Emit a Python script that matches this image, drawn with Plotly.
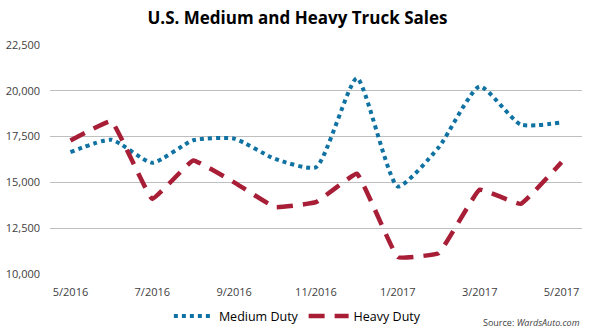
import plotly.graph_objects as go

months = ["5/2016", "6/2016", "7/2016", "8/2016", "9/2016", "10/2016", "11/2016",
          "12/2016", "1/2017", "2/2017", "3/2017", "4/2017", "5/2017"]
medium_duty = [16650, 17330, 16070, 17300, 17390, 16280, 15830, 20690, 14780, 16920, 20240, 18160, 18270]
heavy_duty = [17290, 18340, 14100, 16200, 15000, 13650, 13920, 15470, 10920, 11140, 14600, 13830, 16100]
tick_months = ["5/2016", "7/2016", "9/2016", "11/2016", "1/2017", "3/2017", "5/2017"]
y_ticks = [10000, 12500, 15000, 17500, 20000, 22500]

FONT = "Open Sans, Lato, sans-serif"

fig = go.Figure()
fig.add_trace(go.Scatter(
    x=months, y=medium_duty, name="Medium Duty", mode="lines",
    line=dict(color="#0F72A3", width=4, dash="4px,4px", shape="spline", smoothing=0.55),
))
fig.add_trace(go.Scatter(
    x=months, y=heavy_duty, name="Heavy Duty", mode="lines",
    line=dict(color="#A81E36", width=4.5, dash="16px,10px", shape="spline", smoothing=0.25),
))

fig.update_layout(
    width=595, height=335,
    margin=dict(l=50, r=13, t=45, b=61, autoexpand=False),
    paper_bgcolor="white", plot_bgcolor="white",
    title=dict(text="<b>U.S. Medium and Heavy Truck Sales</b>", x=0.5, xanchor="center",
               y=0.945, yanchor="middle",
               font=dict(family=FONT, size=17, color="#000000")),
    xaxis=dict(type="category", range=[-0.5, 12.5], tickmode="array",
               tickvals=tick_months, ticktext=tick_months,
               showgrid=False, showline=False, ticks="", zeroline=False,
               ticklabelstandoff=10, automargin=False,
               tickfont=dict(family=FONT, size=11, color="#404040")),
    yaxis=dict(range=[10000, 22500], tickvals=y_ticks, tickformat=",",
               showgrid=True, gridcolor="#BFBFBF", gridwidth=1, zeroline=False,
               showline=False, ticks="", ticklabelstandoff=9, automargin=False,
               tickfont=dict(family=FONT, size=11, color="#404040")),
    legend=dict(orientation="h", x=0.465, xanchor="center", y=-0.185, yanchor="middle",
                font=dict(family=FONT, size=12.5, color="#000000"), itemwidth=40,
                tracegroupgap=0),
    showlegend=True,
)
fig.add_annotation(text="Source: <i>WardsAuto.com</i>", xref="paper", yref="paper",
                   x=1.0, xanchor="right", y=-0.21, yanchor="middle", showarrow=False,
                   font=dict(family=FONT, size=9, color="#404040"))

fig.write_html("out.html")
